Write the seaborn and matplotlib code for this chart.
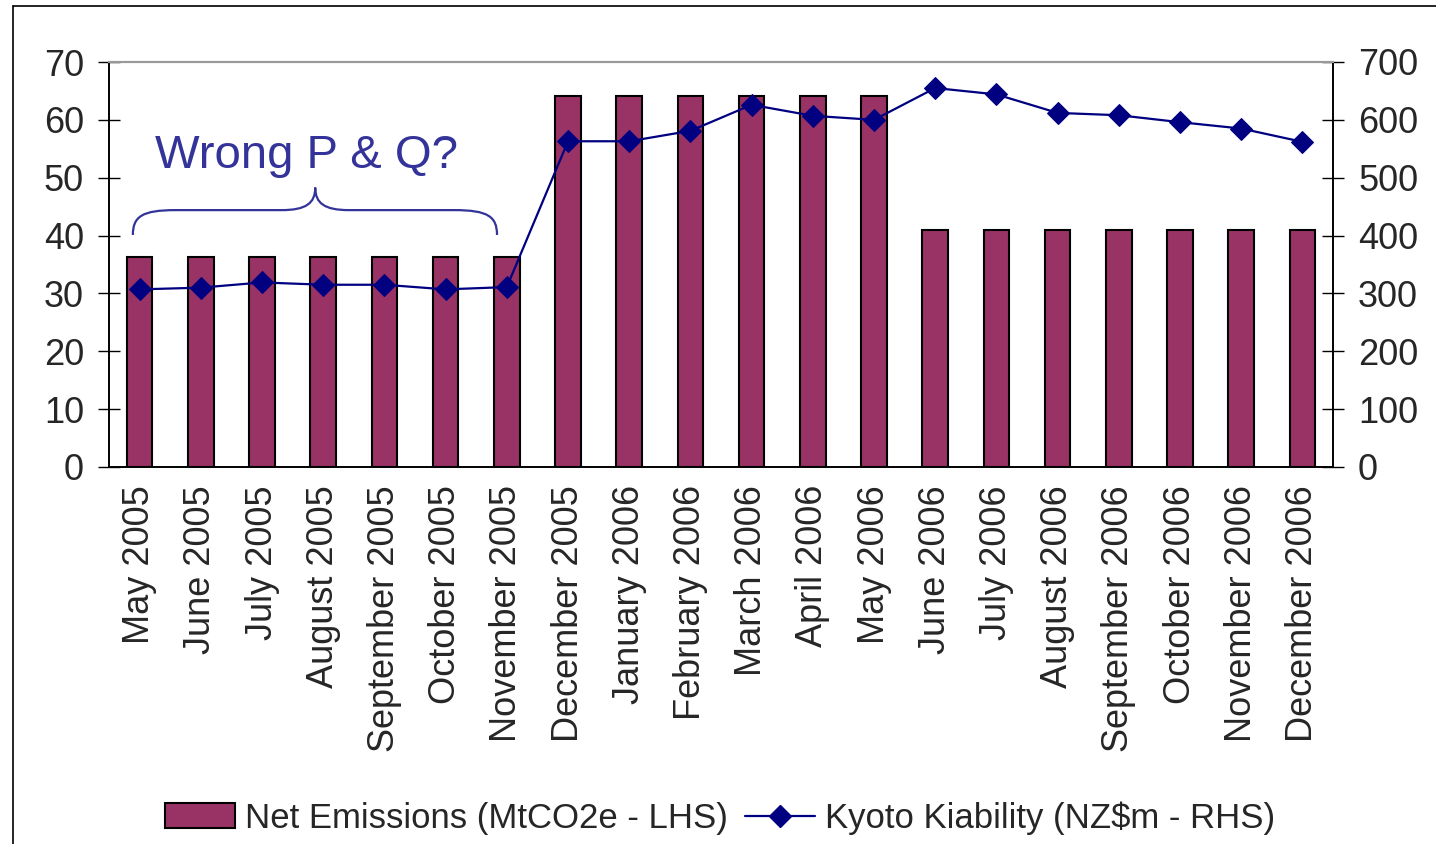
import matplotlib
matplotlib.use('agg')
import matplotlib.pyplot as plt
from matplotlib.path import Path
from matplotlib.patches import PathPatch
from matplotlib.lines import Line2D
import seaborn as sns
import numpy as np
import pandas as pd

MONTHS = ['May 2005', 'June 2005', 'July 2005', 'August 2005', 'September 2005',
          'October 2005', 'November 2005', 'December 2005', 'January 2006',
          'February 2006', 'March 2006', 'April 2006', 'May 2006', 'June 2006',
          'July 2006', 'August 2006', 'September 2006', 'October 2006',
          'November 2006', 'December 2006']

NET_EMISSIONS = [36.3, 36.3, 36.3, 36.3, 36.3, 36.3, 36.3,
                 64.1, 64.1, 64.1, 64.1, 64.1, 64.1,
                 41.0, 41.0, 41.0, 41.0, 41.0, 41.0, 41.0]

KYOTO_LIABILITY = [307, 310, 319, 315, 315, 307, 311,
                   563, 563, 581, 626, 607, 600,
                   655, 644, 612, 608, 596, 585, 562]

LHS_TICKS = [0, 10, 20, 30, 40, 50, 60, 70]
RHS_TICKS = [0, 100, 200, 300, 400, 500, 600, 700]

BAR_LABEL = 'Net Emissions (MtCO2e - LHS)'
LINE_LABEL = 'Kyoto Kiability (NZ$m - RHS)'
NOTE = 'Wrong P & Q?'

MAROON = '#993366'
NAVY = '#000080'
NOTE_BLUE = '#333399'
FS = 26

sns.set_style('white')
plt.rcParams['font.family'] = ['Liberation Sans', 'DejaVu Sans']

df = pd.DataFrame({'month': MONTHS, 'emissions': NET_EMISSIONS,
                   'liability': KYOTO_LIABILITY, 'pos': np.arange(len(MONTHS))})

fig = plt.figure(figsize=(14.36, 8.44), dpi=100)
ax = fig.add_axes([109 / 1436, 1 - 467 / 844, 1224 / 1436, 405 / 844])

sns.barplot(data=df, x='month', y='emissions', color=MAROON, saturation=1,
            width=0.42, edgecolor='black', linewidth=1.5, ax=ax)

ax2 = ax.twinx()
sns.lineplot(data=df, x='pos', y='liability', color=NAVY, linewidth=1.6,
             marker='D', markersize=11, markeredgecolor=NAVY, sort=False, ax=ax2)

n = len(MONTHS)
ax.set_xlim(-0.5, n - 0.5)
ax.set_ylim(0, 70)
ax2.set_ylim(0, 700)
ax.set_xlabel('')
ax.set_ylabel('')
ax2.set_xlabel('')
ax2.set_ylabel('')

ax.set_yticks(LHS_TICKS)
ax.set_yticklabels([str(t) for t in LHS_TICKS], fontsize=FS)
ax2.set_yticks(RHS_TICKS)
ax2.set_yticklabels([str(t) for t in RHS_TICKS], fontsize=FS)

ax.set_xticks(np.arange(n))
ax.set_xticklabels(MONTHS, rotation=90, fontsize=FS)
ax.set_xticks(np.arange(n + 1) - 0.5, minor=True)
ax.tick_params(axis='x', which='major', length=0, pad=13)
ax.tick_params(axis='x', which='minor', direction='inout', length=16, width=1, color='black')
ax.tick_params(axis='y', direction='inout', length=16, width=1, pad=10, color='black')
ax2.tick_params(axis='y', direction='inout', length=16, width=1, pad=10, color='black')

for a in (ax, ax2):
    for s in a.spines.values():
        s.set_linewidth(1.2)
        s.set_color('black')
    a.spines['top'].set_color('#999999')
    a.spines['top'].set_linewidth(1.5)

# curly brace over the first seven months
bx0, bx1, bm = -0.11, 5.84, 2.87
y_end, y_bar, y_tip = 40.1, 44.4, 48.3
verts = [(bx0, y_end),
         (bx0, 43.3), (bx0 + 0.15, y_bar), (bx0 + 0.7, y_bar),
         (bm - 0.55, y_bar),
         (bm - 0.15, y_bar), (bm, 45.6), (bm, y_tip),
         (bm, 45.6), (bm + 0.15, y_bar), (bm + 0.55, y_bar),
         (bx1 - 0.7, y_bar),
         (bx1 - 0.15, y_bar), (bx1, 43.3), (bx1, y_end)]
codes = [Path.MOVETO,
         Path.CURVE4, Path.CURVE4, Path.CURVE4,
         Path.LINETO,
         Path.CURVE4, Path.CURVE4, Path.CURVE4,
         Path.CURVE4, Path.CURVE4, Path.CURVE4,
         Path.LINETO,
         Path.CURVE4, Path.CURVE4, Path.CURVE4]
ax.add_patch(PathPatch(Path(verts, codes), facecolor='none', edgecolor=NOTE_BLUE,
                       linewidth=1.6, zorder=5))
ax.text(2.72, 51.7, NOTE, color=NOTE_BLUE, fontsize=34, ha='center', va='baseline')

handles = [ax.patches[0], Line2D([], [], color=NAVY, linewidth=1.6, marker='D',
                                 markersize=11)]
fig.legend(handles, [BAR_LABEL, LINE_LABEL], loc='center', ncol=2, frameon=False,
           bbox_to_anchor=(0.5015, 1 - 818 / 844), fontsize=25, handlelength=2.0,
           handletextpad=0.3, columnspacing=0.5)

# outer frame (left and top edges visible)
fig.add_artist(Line2D([12.7 / 1436, 12.7 / 1436], [0, 1 - 5.7 / 844], color='black',
                      linewidth=1.2, transform=fig.transFigure))
fig.add_artist(Line2D([12.7 / 1436, 1], [1 - 5.7 / 844, 1 - 5.7 / 844], color='black',
                      linewidth=1.2, transform=fig.transFigure))

fig.savefig('out.png', dpi=100, facecolor='white')
